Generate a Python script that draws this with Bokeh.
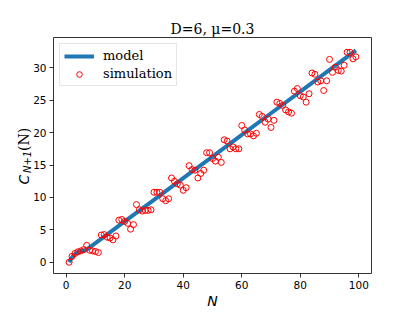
import math
from bokeh.plotting import figure
from bokeh.models import Range1d, FixedTicker, Label
from bokeh.embed import file_html
from bokeh.resources import INLINE

# ---- data ----
sim_n = [1, 2, 3, 4, 5, 6, 7, 8, 9, 10, 11, 12, 13, 14, 15, 16, 17, 18, 19, 20,
         21, 22, 23, 24, 25, 26, 27, 28, 29, 30, 31, 32, 33, 34, 35, 36, 37, 38, 39, 40,
         41, 42, 43, 44, 45, 46, 47, 48, 49, 50, 51, 52, 53, 54, 55, 56, 57, 58, 59, 60,
         61, 62, 63, 64, 65, 66, 67, 68, 69, 70, 71, 72, 73, 74, 75, 76, 77, 78, 79, 80,
         81, 82, 83, 84, 85, 86, 87, 88, 89, 90, 91, 92, 93, 94, 95, 96, 97, 98, 99]
sim_c = [0.0, 0.9, 1.35, 1.6, 1.75, 1.95, 2.6, 1.85, 1.75, 1.65,
         1.5, 4.2, 4.27, 3.86, 3.75, 3.45, 4.05, 6.5, 6.6, 6.3,
         6.0, 5.1, 5.8, 8.9, 8.1, 7.9, 8.0, 8.0, 8.1, 10.8,
         10.8, 10.8, 9.8, 9.5, 9.8, 13.0, 12.5, 12.1, 11.9, 11.1,
         11.5, 14.9, 14.3, 14.2, 13.0, 13.7, 14.2, 16.9, 16.9, 16.0,
         15.6, 16.2, 15.4, 18.9, 18.7, 17.5, 17.8, 17.5, 17.5, 21.1,
         20.4, 19.8, 19.8, 19.5, 19.9, 22.8, 22.5, 21.6, 22.1, 20.8,
         21.9, 24.7, 24.5, 24.2, 23.5, 23.2, 23.0, 26.4, 26.8, 25.7,
         25.5, 24.7, 26.0, 29.2, 29.0, 27.8, 28.0, 26.5, 28.0, 31.3,
         29.3, 30.1, 29.6, 29.5, 30.4, 32.4, 32.4, 31.4, 31.7]
model_n = [1, 2, 3, 4, 5, 6, 7, 8, 10, 20, 30, 40, 50, 60, 70, 80, 90, 99]
model_c = [0.0, 0.75, 1.25, 1.55, 1.7, 1.8, 1.95, 2.3, 2.95, 6.3, 9.63, 12.97,
           16.3, 19.65, 22.99, 26.33, 29.67, 32.68]
x_ticks = [0, 20, 40, 60, 80, 100]
y_ticks = [0, 5, 10, 15, 20, 25, 30]
title_text = "D=6, \u03bc=0.3"

# ---- layout ----
X0, X1 = -4.34, 104.34
Y0, Y1 = -1.74, 34.68
FW, FH = 318, 236
BL, BR, BT, BB = 53, 43, 37, 41
PAGE = 0

p = figure(frame_width=FW, frame_height=FH,
           x_range=Range1d(X0, X1), y_range=Range1d(Y0, Y1),
           output_backend="svg", toolbar_location=None,
           min_border_left=BL, min_border_right=BR,
           min_border_top=BT, min_border_bottom=BB,
           background_fill_color="white", border_fill_color="white")

p.xgrid.visible = False
p.ygrid.visible = False
p.outline_line_color = "black"
p.outline_line_width = 0.8

for ax in (p.xaxis[0], p.yaxis[0]):
    ax.axis_line_color = None
    ax.major_tick_out = 4
    ax.major_tick_in = 0
    ax.minor_tick_line_color = None
    ax.major_tick_line_color = "black"
    ax.major_tick_line_width = 0.8
    ax.major_label_text_font = "DejaVu Sans"
    ax.major_label_text_font_size = "10.5px"
    ax.major_label_text_color = "black"
    ax.major_label_standoff = 3

p.xaxis.ticker = FixedTicker(ticks=x_ticks)
p.yaxis.ticker = FixedTicker(ticks=y_ticks)
p.xaxis.axis_label = "N"
p.xaxis.axis_label_text_font = "DejaVu Sans"
p.xaxis.axis_label_text_font_style = "italic"
p.xaxis.axis_label_text_font_size = "14px"
p.xaxis.axis_label_text_color = "black"
p.xaxis.axis_label_standoff = 1

p.title.text = title_text
p.title.text_font = "DejaVu Serif"
p.title.text_font_size = "14px"
p.title.text_font_style = "normal"
p.title.align = "center"
p.title.text_color = "black"
p.title.standoff = 2

line_r = p.line(model_n, model_c, line_color="#1f77b4", line_width=4,
                legend_label="model")
sc_r = p.scatter(sim_n, sim_c, marker="circle", size=6, line_color="red",
                 fill_color=None, line_width=1, legend_label="simulation")

lg = p.legend[0]
lg.location = "top_left"
lg.margin = 6
lg.padding = 4
lg.spacing = 3
lg.glyph_width = 30
lg.glyph_height = 14
lg.label_height = 14
lg.label_standoff = 9
lg.label_text_font = "DejaVu Serif"
lg.label_text_font_size = "13px"
lg.label_text_color = "black"
lg.border_line_color = "#cccccc"
lg.border_line_width = 1
lg.background_fill_alpha = 0.8


def dx(px):
    return X0 + (px - (PAGE + BL)) / FW * (X1 - X0)


def dy(py):
    return Y1 - (py - (PAGE + BT)) / FH * (Y1 - Y0)


def ylab(text, px, py, font, size, style, side):
    p.add_layout(Label(x=dx(px), y=dy(py), text=text, angle=math.pi / 2,
                       text_align="left", text_baseline="alphabetic",
                       text_font=font, text_font_size=size,
                       text_font_style=style, text_color="black"), side)


# y-axis label "C_{N+1}(N)" built from pieces (held in side panels so they are not clipped)
ylab("C", 23.5, 184, "DejaVu Sans", "14px", "italic", "left")
ylab("N+1", 26.5, 172.5, "DejaVu Sans", "10px", "italic", "right")
ylab("(N)", 23.5, 150.5, "DejaVu Serif", "14px", "normal", "right")

open("out.html", "w").write(file_html(p, INLINE))
